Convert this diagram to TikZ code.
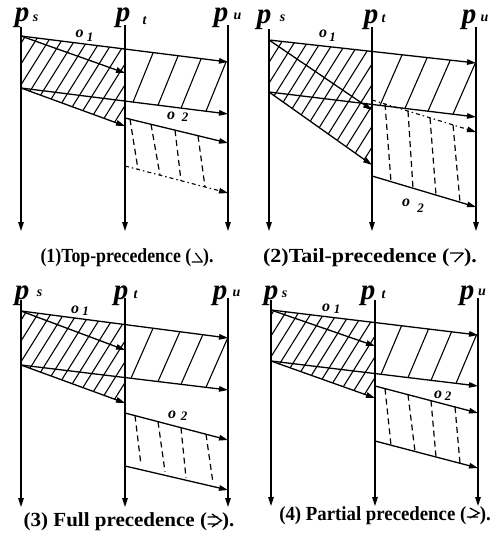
\documentclass[tikz,border=0pt]{standalone}
\usepackage{fontspec}
\setmainfont{Liberation Serif}
\usetikzlibrary{arrows.meta}
\newcommand\pfont{\fontsize{29}{29}\selectfont\bfseries\itshape}
\newcommand\subfont{\fontsize{14}{14}\selectfont\bfseries\itshape}
\newcommand\ofont{\fontsize{16}{16}\selectfont\bfseries\itshape}
\newcommand\onumfont{\fontsize{13}{13}\selectfont\bfseries\itshape}
\newcommand\capfont{\fontsize{20}{20}\selectfont\bfseries}
\newcommand\symA{\tikz[x=1pt,y=1pt,line width=1.3pt,baseline=0pt]{\draw (0,0)--(12,0) (12,0)--(4,9);}}
\newcommand\symB{\tikz[x=1pt,y=1pt,line width=1.3pt,baseline=0pt]{\draw (0,9)--(12,9) (12,9)--(4,0);}}
\newcommand\symC{\tikz[x=1pt,y=1pt,line width=1.3pt,baseline=0pt]{\draw (0,9)--(10,9) (0,2)--(10,2) (4,12)--(13,5.5)--(4,-1);}}
\newcommand\symD{\tikz[x=1pt,y=1pt,line width=1.3pt,baseline=0pt]{\draw (0,3)--(12,3) (3,12)--(13,7)--(3,2);}}
\begin{document}
\begin{tikzpicture}[x=1pt,y=-1pt,
  life/.style={line width=1.4pt,-{Triangle[length=9pt,width=5.5pt]}},
  msg/.style={line width=1.3pt,-{Triangle[length=9pt,width=5.5pt]}},
  hatch/.style={line width=1.1pt},
  dsh/.style={line width=1.2pt,dash pattern=on 6pt off 4pt},
  dashdotline/.style={line width=1.1pt,dash pattern=on 4pt off 3pt on 1.5pt off 3pt,-{Triangle[length=9pt,width=5.5pt]}},
  lbl/.style={inner sep=0pt,anchor=base}]
\path[use as bounding box] (0,0) rectangle (498,537);

% ================= Panel 1 =================
\coordinate (aS0) at (21,27); \coordinate (aS1) at (21,231);
\coordinate (aT0) at (125,25); \coordinate (aT1) at (125,231);
\coordinate (aU0) at (228,25); \coordinate (aU1) at (228,231);
\coordinate (aA0) at (21,36); \coordinate (aA1) at (228,62);
\coordinate (aB1) at (125,73);
\coordinate (aC0) at (21,88); \coordinate (aC1) at (228,114);
\coordinate (aD1) at (125,126);
\coordinate (aE0) at (125,118); \coordinate (aE1) at (228,143);
\coordinate (aF0) at (125,166); \coordinate (aF1) at (228,193);
\draw[life] (aS0) -- (aS1);
\draw[life] (aT0) -- (aT1);
\draw[life] (aU0) -- (aU1);
\draw[msg] (aA0) -- (aA1);
\draw[msg] (aA0) -- (aB1);
\draw[msg] (aC0) -- (aC1);
\draw[msg] (aC0) -- (aD1);
\draw[msg] (aE0) -- (aE1);
\draw[dashdotline] (aF0) -- (aF1);
\begin{scope}
\clip (21,36) -- (125,49.1) -- (125,126) -- (21,88) -- cycle;
\foreach \i in {0,...,17} \draw[hatch] (\i*13-89,136) -- ++(100,-160);
\end{scope}
\begin{scope}
\clip (125,49.1) -- (228,62) -- (228,114) -- (125,101.1) -- cycle;
\draw[hatch] (129,112) -- (157.5,42);
\draw[hatch] (154,115) -- (182.5,45);
\draw[hatch] (177,118) -- (205.5,48);
\draw[hatch] (202,121) -- (230.5,51);
\end{scope}
\draw[dsh] (130,119.2) -- (138,169.4);
\draw[dsh] (151,124.3) -- (160,175.2);
\draw[dsh] (175,130.1) -- (181,180.7);
\draw[dsh] (198,135.7) -- (205,187.0);
\node[lbl] (aps) at (22,22) {\pfont p};
\node[lbl] (apss) at (35.5,22) {\subfont s};
\node[lbl] (apt) at (123,22) {\pfont p};
\node[lbl] (apts) at (144.5,25) {\subfont t};
\node[lbl] (apu) at (221,22) {\pfont p};
\node[lbl] (apus) at (237.5,20) {\subfont u};
\node[lbl] (ao1) at (79.5,38) {\ofont o};
\node[lbl] (ao1s) at (90,42) {\onumfont 1};
\node[lbl] (ao2) at (171,120) {\ofont o};
\node[lbl] (ao2s) at (185,122) {\onumfont 2};
\node[lbl] (acap) at (127,262) {\capfont\scalebox{0.89}[1]{(1)Top-precedence (\symA).}};

% ================= Panel 2 =================
\coordinate (bS0) at (269,29); \coordinate (bS1) at (269,231);
\coordinate (bT0) at (372,27); \coordinate (bT1) at (372,231);
\coordinate (bU0) at (476,27); \coordinate (bU1) at (476,231);
\coordinate (bA0) at (269,40); \coordinate (bA1) at (476,63);
\coordinate (bB1) at (372,110);
\coordinate (bC0) at (269,92); \coordinate (bC1) at (476,117);
\coordinate (bD1) at (372,165);
\coordinate (bE0) at (372,176); \coordinate (bE1) at (476,207);
\coordinate (bF0) at (372,100); \coordinate (bF1) at (476,132);
\draw[life] (bS0) -- (bS1);
\draw[life] (bT0) -- (bT1);
\draw[life] (bU0) -- (bU1);
\draw[msg] (bA0) -- (bA1);
\draw[msg] (bA0) -- (bB1);
\draw[msg] (bC0) -- (bC1);
\draw[msg] (bC0) -- (bD1);
\draw[msg] (bE0) -- (bE1);
\draw[dashdotline] (bF0) -- (bF1);
\begin{scope}
\clip (269,40) -- (372,51.4) -- (372,165) -- (269,92) -- cycle;
\foreach \i in {0,...,17} \draw[hatch] (\i*13+159,176) -- ++(100,-160);
\end{scope}
\begin{scope}
\clip (372,51.4) -- (476,63) -- (476,117) -- (372,104.4) -- cycle;
\draw[hatch] (375.6,115.4) -- (406.2,45.4);
\draw[hatch] (400.6,118.4) -- (431.2,48.4);
\draw[hatch] (423.6,121.2) -- (454.2,51.2);
\draw[hatch] (448.6,124.2) -- (479.2,54.2);
\end{scope}
\draw[dsh] (385,104.0) -- (391,181.7);
\draw[dsh] (408,111.1) -- (413,188.2);
\draw[dsh] (430,117.8) -- (436,195.1);
\draw[dsh] (453,124.9) -- (460,202.2);
\node[lbl] (bps) at (264,24) {\pfont p};
\node[lbl] (bpss) at (282.5,22) {\subfont s};
\node[lbl] (bpt) at (371,24) {\pfont p};
\node[lbl] (bpts) at (383.5,23) {\subfont t};
\node[lbl] (bpu) at (469,24) {\pfont p};
\node[lbl] (bpus) at (484.5,22) {\subfont u};
\node[lbl] (bo1) at (323,38) {\ofont o};
\node[lbl] (bo1s) at (332.5,42) {\onumfont 1};
\node[lbl] (bo2) at (406,207) {\ofont o};
\node[lbl] (bo2s) at (420.5,212) {\onumfont 2};
\node[lbl] (bcap) at (370,262) {\capfont\scalebox{1.1}[1]{(2)Tail-precedence (\symB).}};

% ================= Panel 3 =================
\coordinate (cS0) at (21,300); \coordinate (cS1) at (21,507);
\coordinate (cT0) at (125,298); \coordinate (cT1) at (125,507);
\coordinate (cU0) at (228,298); \coordinate (cU1) at (228,507);
\coordinate (cA0) at (21,311); \coordinate (cA1) at (228,338);
\coordinate (cB1) at (125,350);
\coordinate (cC0) at (21,365); \coordinate (cC1) at (228,390);
\coordinate (cD1) at (125,403);
\coordinate (cE0) at (125,413); \coordinate (cE1) at (228,440);
\coordinate (cF0) at (125,466); \coordinate (cF1) at (228,490);
\draw[life] (cS0) -- (cS1);
\draw[life] (cT0) -- (cT1);
\draw[life] (cU0) -- (cU1);
\draw[msg] (cA0) -- (cA1);
\draw[msg] (cA0) -- (cB1);
\draw[msg] (cC0) -- (cC1);
\draw[msg] (cC0) -- (cD1);
\draw[msg] (cE0) -- (cE1);
\draw[msg] (cF0) -- (cF1);
\begin{scope}
\clip (21,311) -- (125,324.6) -- (125,403) -- (21,365) -- cycle;
\foreach \i in {0,...,17} \draw[hatch] (\i*13-89,413) -- ++(100,-160);
\end{scope}
\begin{scope}
\clip (125,324.6) -- (228,338) -- (228,390) -- (125,377.6) -- cycle;
\draw[hatch] (126.6,388.3) -- (157.4,318.3);
\draw[hatch] (153.6,391.5) -- (184.4,321.5);
\draw[hatch] (176.6,394.3) -- (207.4,324.3);
\draw[hatch] (201.6,397.3) -- (232.4,327.3);
\end{scope}
\draw[dsh] (135,415.6) -- (141,465);
\draw[dsh] (158,421.7) -- (165,471.7);
\draw[dsh] (181,427.7) -- (186,478);
\draw[dsh] (206,434.2) -- (213,483);
\node[lbl] (cps) at (22,299) {\pfont p};
\node[lbl] (cpss) at (39.5,296) {\subfont s};
\node[lbl] (cpt) at (121,299) {\pfont p};
\node[lbl] (cpts) at (135.5,298) {\subfont t};
\node[lbl] (cpu) at (220,299) {\pfont p};
\node[lbl] (cpus) at (236.5,296) {\subfont u};
\node[lbl] (co1) at (75,313) {\ofont o};
\node[lbl] (co1s) at (85.5,315) {\onumfont 1};
\node[lbl] (co2) at (172,418) {\ofont o};
\node[lbl] (co2s) at (184,420) {\onumfont 2};
\node[lbl] (ccap) at (129,526) {\capfont\scalebox{1.05}[1]{(3) Full precedence (\symC).}};

% ================= Panel 4 =================
\coordinate (dS0) at (271,300); \coordinate (dS1) at (271,506);
\coordinate (dT0) at (375,300); \coordinate (dT1) at (375,506);
\coordinate (dU0) at (478,298); \coordinate (dU1) at (478,506);
\coordinate (dA0) at (271,310); \coordinate (dA1) at (478,335);
\coordinate (dB1) at (375,346);
\coordinate (dC0) at (271,361); \coordinate (dC1) at (478,386);
\coordinate (dD1) at (375,398);
\coordinate (dE0) at (375,386); \coordinate (dE1) at (478,413);
\coordinate (dF0) at (375,441); \coordinate (dF1) at (478,468);
\draw[life] (dS0) -- (dS1);
\draw[life] (dT0) -- (dT1);
\draw[life] (dU0) -- (dU1);
\draw[msg] (dA0) -- (dA1);
\draw[msg] (dA0) -- (dB1);
\draw[msg] (dC0) -- (dC1);
\draw[msg] (dC0) -- (dD1);
\draw[msg] (dE0) -- (dE1);
\draw[msg] (dF0) -- (dF1);
\begin{scope}
\clip (271,310) -- (375,322.6) -- (375,398) -- (271,361) -- cycle;
\foreach \i in {0,...,17} \draw[hatch] (\i*13+161,408) -- ++(100,-160);
\end{scope}
\begin{scope}
\clip (375,322.6) -- (478,335) -- (478,386) -- (375,373.6) -- cycle;
\draw[hatch] (376.8,384.3) -- (406.4,314.3);
\draw[hatch] (403.8,387.5) -- (433.4,317.5);
\draw[hatch] (426.8,390.3) -- (456.4,320.3);
\draw[hatch] (451.8,393.3) -- (481.4,323.3);
\end{scope}
\draw[dsh] (385,388.6) -- (391,445.2);
\draw[dsh] (408,394.7) -- (415,451.5);
\draw[dsh] (431,400.7) -- (436,457.0);
\draw[dsh] (455,407.0) -- (460,463.3);
\node[lbl] (dps) at (271,299) {\pfont p};
\node[lbl] (dpss) at (284.5,297) {\subfont s};
\node[lbl] (dpt) at (368,299) {\pfont p};
\node[lbl] (dpts) at (383.5,298) {\subfont t};
\node[lbl] (dpu) at (467,299) {\pfont p};
\node[lbl] (dpus) at (482,295) {\subfont u};
\node[lbl] (do1) at (326,311) {\ofont o};
\node[lbl] (do1s) at (337,313) {\onumfont 1};
\node[lbl] (do2) at (438,398) {\ofont o};
\node[lbl] (do2s) at (448,400) {\onumfont 2};
\node[lbl] (dcap) at (385,520) {\capfont\scalebox{0.94}[1]{(4) Partial precedence (\symD).}};
\end{tikzpicture}
\end{document}
